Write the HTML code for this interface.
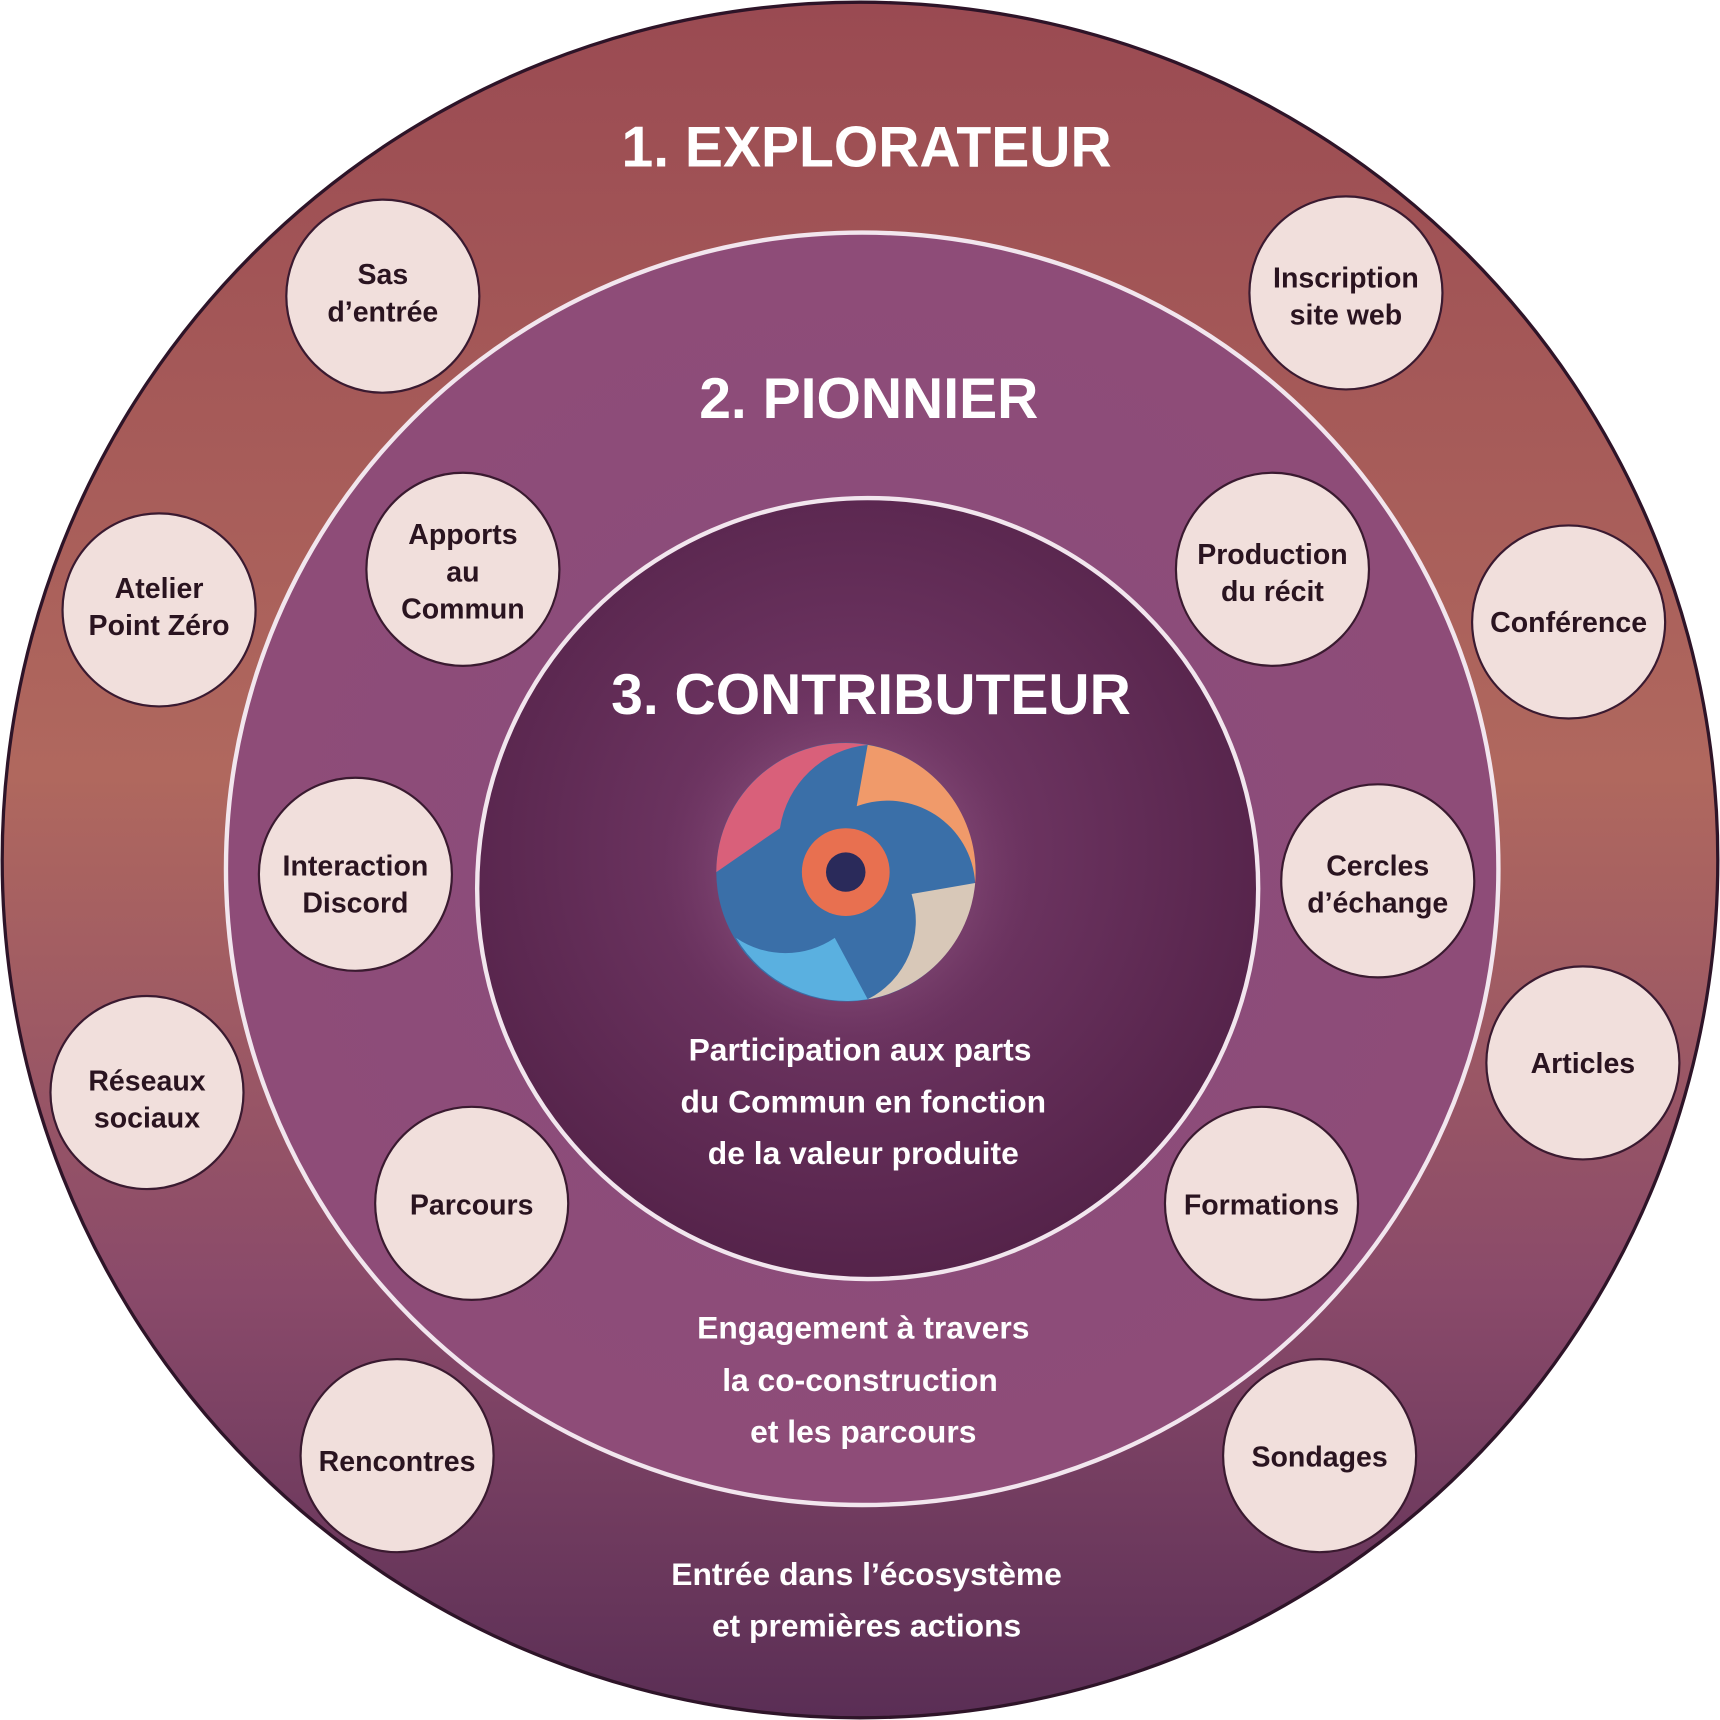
<!DOCTYPE html>
<html><head><meta charset="utf-8"><style>
html,body{margin:0;padding:0;background:#fff;width:1720px;height:1720px;overflow:hidden}
svg{display:block}
text{font-family:"Liberation Sans",sans-serif;font-weight:bold}
.s{font-size:26px;fill:#2a1420;text-anchor:middle}
.w{fill:#fff;text-anchor:middle}
.c{fill:#f1dfdc;stroke:#3a1a30;stroke-width:2}
</style></head><body>
<svg width="1720" height="1720" viewBox="0 0 1568 1568">
<defs>
<radialGradient id="g1" cx="50%" cy="50%" r="50%">
<stop offset="0.55" stop-color="#a0506a"/><stop offset="0.8" stop-color="#a45a5c"/><stop offset="1" stop-color="#7a3a52"/>
</radialGradient>
<linearGradient id="g0" x1="0" y1="0" x2="0" y2="1">
<stop offset="0" stop-color="#9a4a52"/><stop offset="0.45" stop-color="#b0685e"/><stop offset="0.75" stop-color="#8a4a6a"/><stop offset="1" stop-color="#5a2e55"/>
</linearGradient>
<radialGradient id="g2" cx="50%" cy="50%" r="50%">
<stop offset="0" stop-color="#8a4c7c"/><stop offset="1" stop-color="#8e4c78"/>
</radialGradient>
<radialGradient id="g3" cx="48%" cy="45%" r="55%">
<stop offset="0" stop-color="#7a3e6e"/><stop offset="1" stop-color="#55234a"/>
</radialGradient>
<radialGradient id="glow" cx="50%" cy="50%" r="50%">
<stop offset="0" stop-color="#c89ab8" stop-opacity="0.8"/><stop offset="1" stop-color="#7a3e6e" stop-opacity="0"/>
</radialGradient>
</defs>
<circle cx="784" cy="784" r="782" fill="url(#g0)" stroke="#2e1428" stroke-width="3"/>
<circle cx="786" cy="792" r="580" fill="url(#g2)" stroke="#f2e6ee" stroke-width="4"/>
<circle cx="791" cy="810" r="356" fill="url(#g3)" stroke="#f2e6ee" stroke-width="4"/>
<circle cx="771" cy="795" r="170" fill="url(#glow)"/>
<g transform="translate(771,795)">
<circle r="118" fill="#3a6fa8"/>
<path d="M-118,0 A118,118 0 0 1 20,-116 A90,90 0 0 0 -60,-40 Z" fill="#d9607a"/>
<path d="M20,-116 A118,118 0 0 1 118,10 A80,80 0 0 0 10,-60 Z" fill="#f09a6a"/>
<path d="M118,10 A118,118 0 0 1 20,116 A80,80 0 0 0 60,20 Z" fill="#d8c8b8"/>
<path d="M20,116 A118,118 0 0 1 -100,60 A80,80 0 0 0 -10,60 Z" fill="#5ab0e0"/>
<circle r="40" fill="#e87050"/><circle r="18" fill="#2a2a5a"/>
</g>
<text class="w" x="790" y="152" font-size="52">1. EXPLORATEUR</text>
<text class="w" x="792" y="381" font-size="52">2. PIONNIER</text>
<text class="w" x="794" y="651" font-size="52">3. CONTRIBUTEUR</text>
<g class="w" font-size="29">
<text x="784" y="967">Participation aux parts</text>
<text x="787" y="1014">du Commun en fonction</text>
<text x="787" y="1061">de la valeur produite</text>
<text x="787" y="1220">Engagement à travers</text>
<text x="784" y="1268">la co-construction</text>
<text x="787" y="1315">et les parcours</text>
<text x="790" y="1445">Entrée dans l’écosystème</text>
<text x="790" y="1492">et premières actions</text>
</g>
<g>
<circle class="c" cx="349" cy="270" r="88"/><text class="s" x="349" y="259">Sas</text><text class="s" x="349" y="293">d’entrée</text>
<circle class="c" cx="1227" cy="267" r="88"/><text class="s" x="1227" y="262">Inscription</text><text class="s" x="1227" y="296">site web</text>
<circle class="c" cx="145" cy="556" r="88"/><text class="s" x="145" y="545">Atelier</text><text class="s" x="145" y="579">Point Zéro</text>
<circle class="c" cx="422" cy="519" r="88"/><text class="s" x="422" y="496">Apports</text><text class="s" x="422" y="530">au</text><text class="s" x="422" y="564">Commun</text>
<circle class="c" cx="1160" cy="519" r="88"/><text class="s" x="1160" y="514">Production</text><text class="s" x="1160" y="548">du récit</text>
<circle class="c" cx="1430" cy="567" r="88"/><text class="s" x="1430" y="576">Conférence</text>
<circle class="c" cx="324" cy="797" r="88"/><text class="s" x="324" y="798">Interaction</text><text class="s" x="324" y="832">Discord</text>
<circle class="c" cx="1256" cy="803" r="88"/><text class="s" x="1256" y="798">Cercles</text><text class="s" x="1256" y="832">d’échange</text>
<circle class="c" cx="134" cy="996" r="88"/><text class="s" x="134" y="994">Réseaux</text><text class="s" x="134" y="1028">sociaux</text>
<circle class="c" cx="1443" cy="969" r="88"/><text class="s" x="1443" y="978">Articles</text>
<circle class="c" cx="430" cy="1097" r="88"/><text class="s" x="430" y="1107">Parcours</text>
<circle class="c" cx="1150" cy="1097" r="88"/><text class="s" x="1150" y="1107">Formations</text>
<circle class="c" cx="362" cy="1327" r="88"/><text class="s" x="362" y="1341">Rencontres</text>
<circle class="c" cx="1203" cy="1327" r="88"/><text class="s" x="1203" y="1337">Sondages</text>
</g>
</svg>
</body></html>
